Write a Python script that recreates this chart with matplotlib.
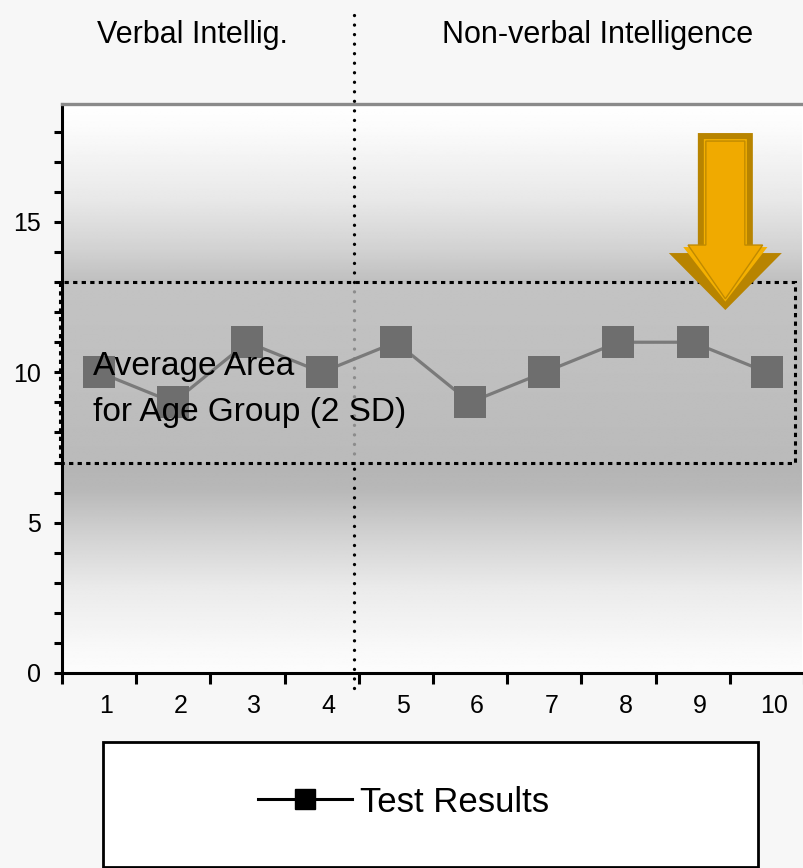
import numpy as np
import matplotlib.pyplot as plt
import matplotlib.transforms as mtransforms
from matplotlib.lines import Line2D
from matplotlib.patches import Rectangle, Polygon

plt.rcParams['font.family'] = ['Liberation Sans', 'DejaVu Sans']

# data
tests = [1, 2, 3, 4, 5, 6, 7, 8, 9, 10]
scores = [10, 9, 11, 10, 11, 9, 10, 11, 11, 10]
tick_labels = [str(t) for t in tests]
section_labels = ['Verbal Intellig.', 'Non-verbal Intelligence']
band_low, band_high = 7, 13
band_text = 'Average Area\nfor Age Group (2 SD)'
legend_label = 'Test Results'

# background gradient stops (y value, gray level)
grad_y = [0, 0.76, 2.76, 4.42, 6.09, 6.75, 9.74, 12.94, 14.07, 15.73, 17.96, 18.92]
grad_v = [252, 249, 235, 212, 184, 181, 186, 190, 210, 232, 250, 255]

fig = plt.figure(figsize=(8.04, 8.68), dpi=100, facecolor='#f7f7f7')
ax = fig.add_axes([62 / 804, 195 / 868, 742 / 804, 569 / 868])
xmax = 0.5 + 742 / 74.5
ymax = 569 / 30.07

yy = np.linspace(0, ymax, 400)
g = np.interp(yy, grad_y, grad_v) / 255
img = np.repeat(g[:, None], 2, axis=1)
ax.imshow(img, cmap='gray', vmin=0, vmax=1, extent=[0.5, xmax, 0, ymax],
          origin='lower', aspect='auto', zorder=0, interpolation='bilinear')
ax.set_xlim(0.5, xmax)
ax.set_ylim(0, ymax)

for side in ['left', 'bottom']:
    ax.spines[side].set_color('black')
    ax.spines[side].set_linewidth(2.2)
ax.spines['top'].set_color('#8a8a8a')
ax.spines['top'].set_linewidth(2.4)
ax.spines['right'].set_visible(False)

# y axis
ax.set_yticks([0, 5, 10, 15])
ax.set_yticks(np.arange(0, 19), minor=True)
ax.tick_params(axis='y', which='both', direction='out', length=6, width=2.2,
               color='black', labelsize=18, pad=9)

# x axis: labels at the centers, tick marks between categories
ax.set_xticks(tests)
ax.set_xticklabels(tick_labels)
ax.set_xticks(np.arange(0.5, 11, 1), minor=True)
ax.tick_params(axis='x', which='major', length=0, labelsize=18, pad=15)
ax.tick_params(axis='x', which='minor', direction='out', length=8, width=2.2, color='black')
shift = mtransforms.ScaledTranslation(7 / 100, 0, fig.dpi_scale_trans)
for lab in ax.get_xticklabels():
    lab.set_transform(lab.get_transform() + shift)

# divider between the two sections
divider_x = 4.43
trans = mtransforms.blended_transform_factory(ax.transData, ax.transAxes)
dot = (0, (0.01, 2.85))
lo, hi = band_low / ymax, band_high / ymax
for y0, y1, col in [(-0.026, lo, 'black'), (lo, hi, '#8c8c8c'), (hi, 1.165, 'black')]:
    ax.add_line(Line2D([divider_x, divider_x], [y0, y1], transform=trans, color=col,
                       lw=2.4, linestyle=dot, dash_capstyle='round', clip_on=False, zorder=2))

# average band
ax.add_patch(Rectangle((0.473, band_low), 10.38 - 0.473, band_high - band_low,
                       facecolor='white', alpha=0.08, edgecolor='none', zorder=1))
ax.add_patch(Rectangle((0.473, band_low), 10.38 - 0.473, band_high - band_low, fill=False,
                       edgecolor='black', lw=2.2, linestyle=(0, (1.4, 1.4)), zorder=2, clip_on=False))

ax.plot(tests, scores, color='#7a7a7a', lw=2.3, marker='s', ms=23,
        mfc='#6e6e6e', mec='#6e6e6e', mew=0, zorder=3)

ax.text(0.916, 9.42, band_text, fontsize=24, linespacing=1.62, ha='left', va='center', zorder=4)

# highlight arrow, drawn in pixel offsets from its tip
arrow_x, arrow_tip = 9.44, 12.07


def arrow_poly(d):
    sh, hh, hb, top, tip = 27.5 - d, 56.5 - 2.4 * d, 57 + d, 177 - d, 1.41 * d
    return [(0, tip), (hh, hb), (sh, hb), (sh, top), (-sh, top), (-sh, hb), (-hh, hb)]


atrans = mtransforms.IdentityTransform() + mtransforms.ScaledTranslation(arrow_x, arrow_tip, ax.transData)
for d, fc, ec, lw in [(0, '#b88400', 'none', 0), (6, '#f4b000', 'none', 0), (8, '#f0aa00', '#c08a00', 1)]:
    ax.add_patch(Polygon(arrow_poly(d), closed=True, facecolor=fc, edgecolor=ec, lw=lw,
                         transform=atrans, zorder=5, clip_on=False))

# section headings
fig.text(192 / 804, 1 - 35 / 868, section_labels[0], ha='center', va='center', fontsize=22)
fig.text(598 / 804, 1 - 35 / 868, section_labels[1], ha='center', va='center', fontsize=22)

# legend box
fig.add_artist(Rectangle((103 / 804, 1 / 868), 655 / 804, 125 / 868, transform=fig.transFigure,
                         facecolor='white', edgecolor='black', lw=2))
handle = Line2D([], [], color='black', lw=2.2, marker='s', ms=15, mfc='black', mec='black')
fig.legend(handles=[handle], labels=[legend_label], loc='center left',
           bbox_to_anchor=(258 / 804, 1 - 802 / 868), frameon=False, fontsize=25,
           handlelength=2.7, handletextpad=0.25, borderpad=0, borderaxespad=0)

fig.savefig('out.png', dpi=100, facecolor=fig.get_facecolor())
